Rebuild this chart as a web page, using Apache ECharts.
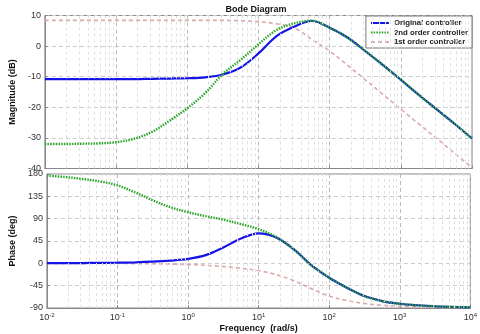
<!DOCTYPE html>
<html>
<head>
<meta charset="utf-8">
<script src="https://cdn.jsdelivr.net/npm/echarts@6/dist/echarts.min.js"></script>
<style>
html, body { margin: 0; padding: 0; background: #fff; }
#main { width: 480px; height: 334px; }
</style>
</head>
<body>
<div id="main"></div>
<script>
// frequency points (rad/s), quarter decades
var freqs = [0.01, 0.0178, 0.0316, 0.0562, 0.1, 0.178, 0.316, 0.562, 1, 1.78, 3.16, 5.62,
  10, 17.8, 31.6, 56.2, 100, 178, 316, 562, 1000, 1780, 3160, 5620, 10000];

// magnitude (dB)
var magOriginal = [-10.8, -10.8, -10.8, -10.8, -10.8, -10.8, -10.7, -10.6, -10.5, -10.2, -9.3, -7.0,
  -2.4, 3.2, 6.3, 8.2, 6.0, 2.8, -1.6, -6.2, -11.0, -15.9, -20.6, -25.3, -30.2];
var mag2nd = [-32.0, -32.0, -31.9, -31.8, -31.4, -30.3, -28.1, -24.4, -20.3, -15.4, -9.1, -4.5,
  0.6, 5.2, 7.4, 8.3, 6.0, 2.8, -1.6, -6.2, -11.0, -15.9, -20.6, -25.3, -30.2];
var mag1st = [8.4, 8.4, 8.4, 8.4, 8.4, 8.4, 8.4, 8.4, 8.4, 8.4, 8.4, 8.3,
  8.0, 7.3, 6.0, 2.2, -1.6, -6.2, -11.0, -15.8, -20.6, -25.4, -30.1, -34.9, -39.7];

// phase (deg)
var phOriginal = [0.3, 0.4, 0.6, 0.9, 1.3, 2.0, 3.3, 5.5, 9.0, 16.5, 32, 50,
  60.5, 52, 28, -4, -29, -49, -66, -76, -81.5, -84.5, -86.5, -87.8, -88.7];
var ph2nd = [176.5, 174, 170, 165, 157, 143, 127, 113, 103, 95, 88, 79,
  69, 53, 28, -4, -29, -49, -66, -76, -81.5, -84.5, -86.5, -87.8, -88.7];
var ph1st = [0, 0, -0.1, -0.2, -0.3, -0.5, -0.9, -1.5, -2.5, -4, -6.5, -10,
  -14.5, -23, -35, -51, -66, -75, -81, -84.5, -86.5, -87.8, -88.5, -89, -89.5];

var magTicks = { min: -40, max: 10, interval: 10 };
var phTicks = { min: -90, max: 180, interval: 45 };

var seriesNames = ['Original controller', '2nd order controller', '1st order controller'];

var FONT = '"Liberation Sans", Arial, sans-serif';

function pairs(ys) {
  return freqs.map(function (f, i) { return [f, ys[i]]; });
}

// minor grid lines at 2..9 x each decade
var minorLines = [];
for (var k = -2; k < 4; k++) {
  for (var m = 2; m <= 9; m++) {
    minorLines.push({ xAxis: m * Math.pow(10, k) });
  }
}

var myChart = echarts.init(document.getElementById('main'));

function xAxisCfg(idx, showLabel) {
  return {
    type: 'log',
    logBase: 10,
    gridIndex: idx,
    min: 0.01,
    max: 10000,
    splitNumber: 6,
    name: showLabel ? 'Frequency  (rad/s)' : '',
    nameLocation: 'middle',
    nameGap: 16,
    nameTextStyle: { fontFamily: FONT, fontSize: 9, fontWeight: 'bold', color: '#111' },
    axisLine: { show: true, onZero: false, lineStyle: { color: '#888', width: 1 } },
    axisTick: { show: true, inside: true, length: 3, lineStyle: { color: '#888' } },
    axisLabel: {
      show: showLabel,
      margin: 4,
      fontFamily: FONT,
      color: '#333',
      formatter: function (v) {
        var e = Math.round(Math.log(v) / Math.LN10);
        return '{b|10}{e|' + e + '}';
      },
      rich: {
        b: { fontSize: 9, fontFamily: FONT, color: '#333' },
        e: { fontSize: 6, fontFamily: FONT, color: '#333', padding: [0, 0, 6, 0] }
      }
    },
    splitLine: { show: true, lineStyle: { color: '#bbb', type: [4, 3], width: 1 } }
  };
}

function yAxisCfg(idx, ticks, name) {
  return {
    type: 'value',
    gridIndex: idx,
    min: ticks.min,
    max: ticks.max,
    interval: ticks.interval,
    name: name,
    nameLocation: 'middle',
    nameGap: 21,
    nameTextStyle: { fontFamily: FONT, fontSize: 9, fontWeight: 'bold', color: '#111' },
    axisLine: { show: true, lineStyle: { color: '#888', width: 1 } },
    axisTick: { show: true, inside: true, length: 3, lineStyle: { color: '#888' } },
    axisLabel: { fontFamily: FONT, fontSize: 9, color: '#333', margin: 4 },
    splitLine: { show: true, lineStyle: { color: '#ccc', type: [4, 3], width: 1 } }
  };
}

var styles = [
  { color: '#1414e6', width: 2.2, type: 'solid' },
  { color: '#2aa52a', width: 2.4, type: [1.5, 1.2] },
  { color: '#d9a9a9', width: 1.6, type: [4, 3] }
];

function curve(name, idx, ys, st, z) {
  return {
    name: name,
    type: 'line',
    xAxisIndex: idx,
    yAxisIndex: idx,
    data: pairs(ys),
    smooth: 0.35,
    symbol: 'none',
    showSymbol: false,
    z: z,
    itemStyle: { color: st.color },
    lineStyle: { color: st.color, width: st.width, type: st.type }
  };
}

function minorSeries(idx) {
  return {
    type: 'line',
    xAxisIndex: idx,
    yAxisIndex: idx,
    data: [],
    silent: true,
    z: 1,
    markLine: {
      silent: true,
      symbol: 'none',
      label: { show: false },
      lineStyle: { color: '#e0e0e0', type: [3, 3], width: 1 },
      data: minorLines,
      animation: false
    }
  };
}

var option = {
  animation: false,
  backgroundColor: '#fff',
  title: {
    text: 'Bode Diagram',
    left: 251,
    textAlign: 'center',
    top: 0,
    textStyle: { fontFamily: FONT, fontSize: 9, fontWeight: 'bold', color: '#111' }
  },
  legend: {
    orient: 'vertical',
    right: 8,
    top: 16,
    padding: [3, 4, 2, 4],
    itemGap: 1.5,
    itemWidth: 18,
    itemHeight: 8.5,
    backgroundColor: '#fff',
    borderColor: '#777',
    borderWidth: 1,
    borderRadius: 0,
    itemStyle: { opacity: 0 },
    textStyle: { fontFamily: FONT, fontSize: 7.8, fontWeight: 'bold', color: '#222', padding: [0, 0, 0, 0] },
    data: seriesNames
  },
  grid: [
    { left: 30, right: 8, top: 15.5, height: 153, show: true, borderColor: '#888', borderWidth: 1 },
    { left: 30, right: 8, top: 174, height: 134.5, show: true, borderColor: '#888', borderWidth: 1 }
  ],
  xAxis: [xAxisCfg(0, false), xAxisCfg(1, true)],
  yAxis: [yAxisCfg(0, magTicks, 'Magnitude (dB)'), yAxisCfg(1, phTicks, 'Phase (deg)')],
  series: [
    minorSeries(0),
    minorSeries(1),
    curve(seriesNames[2], 0, mag1st, styles[2], 3),
    curve(seriesNames[0], 0, magOriginal, styles[0], 4),
    curve(seriesNames[1], 0, mag2nd, styles[1], 5),
    curve(seriesNames[2], 1, ph1st, styles[2], 3),
    curve(seriesNames[0], 1, phOriginal, styles[0], 4),
    curve(seriesNames[1], 1, ph2nd, styles[1], 5)
  ]
};

myChart.setOption(option);
</script>
</body>
</html>
